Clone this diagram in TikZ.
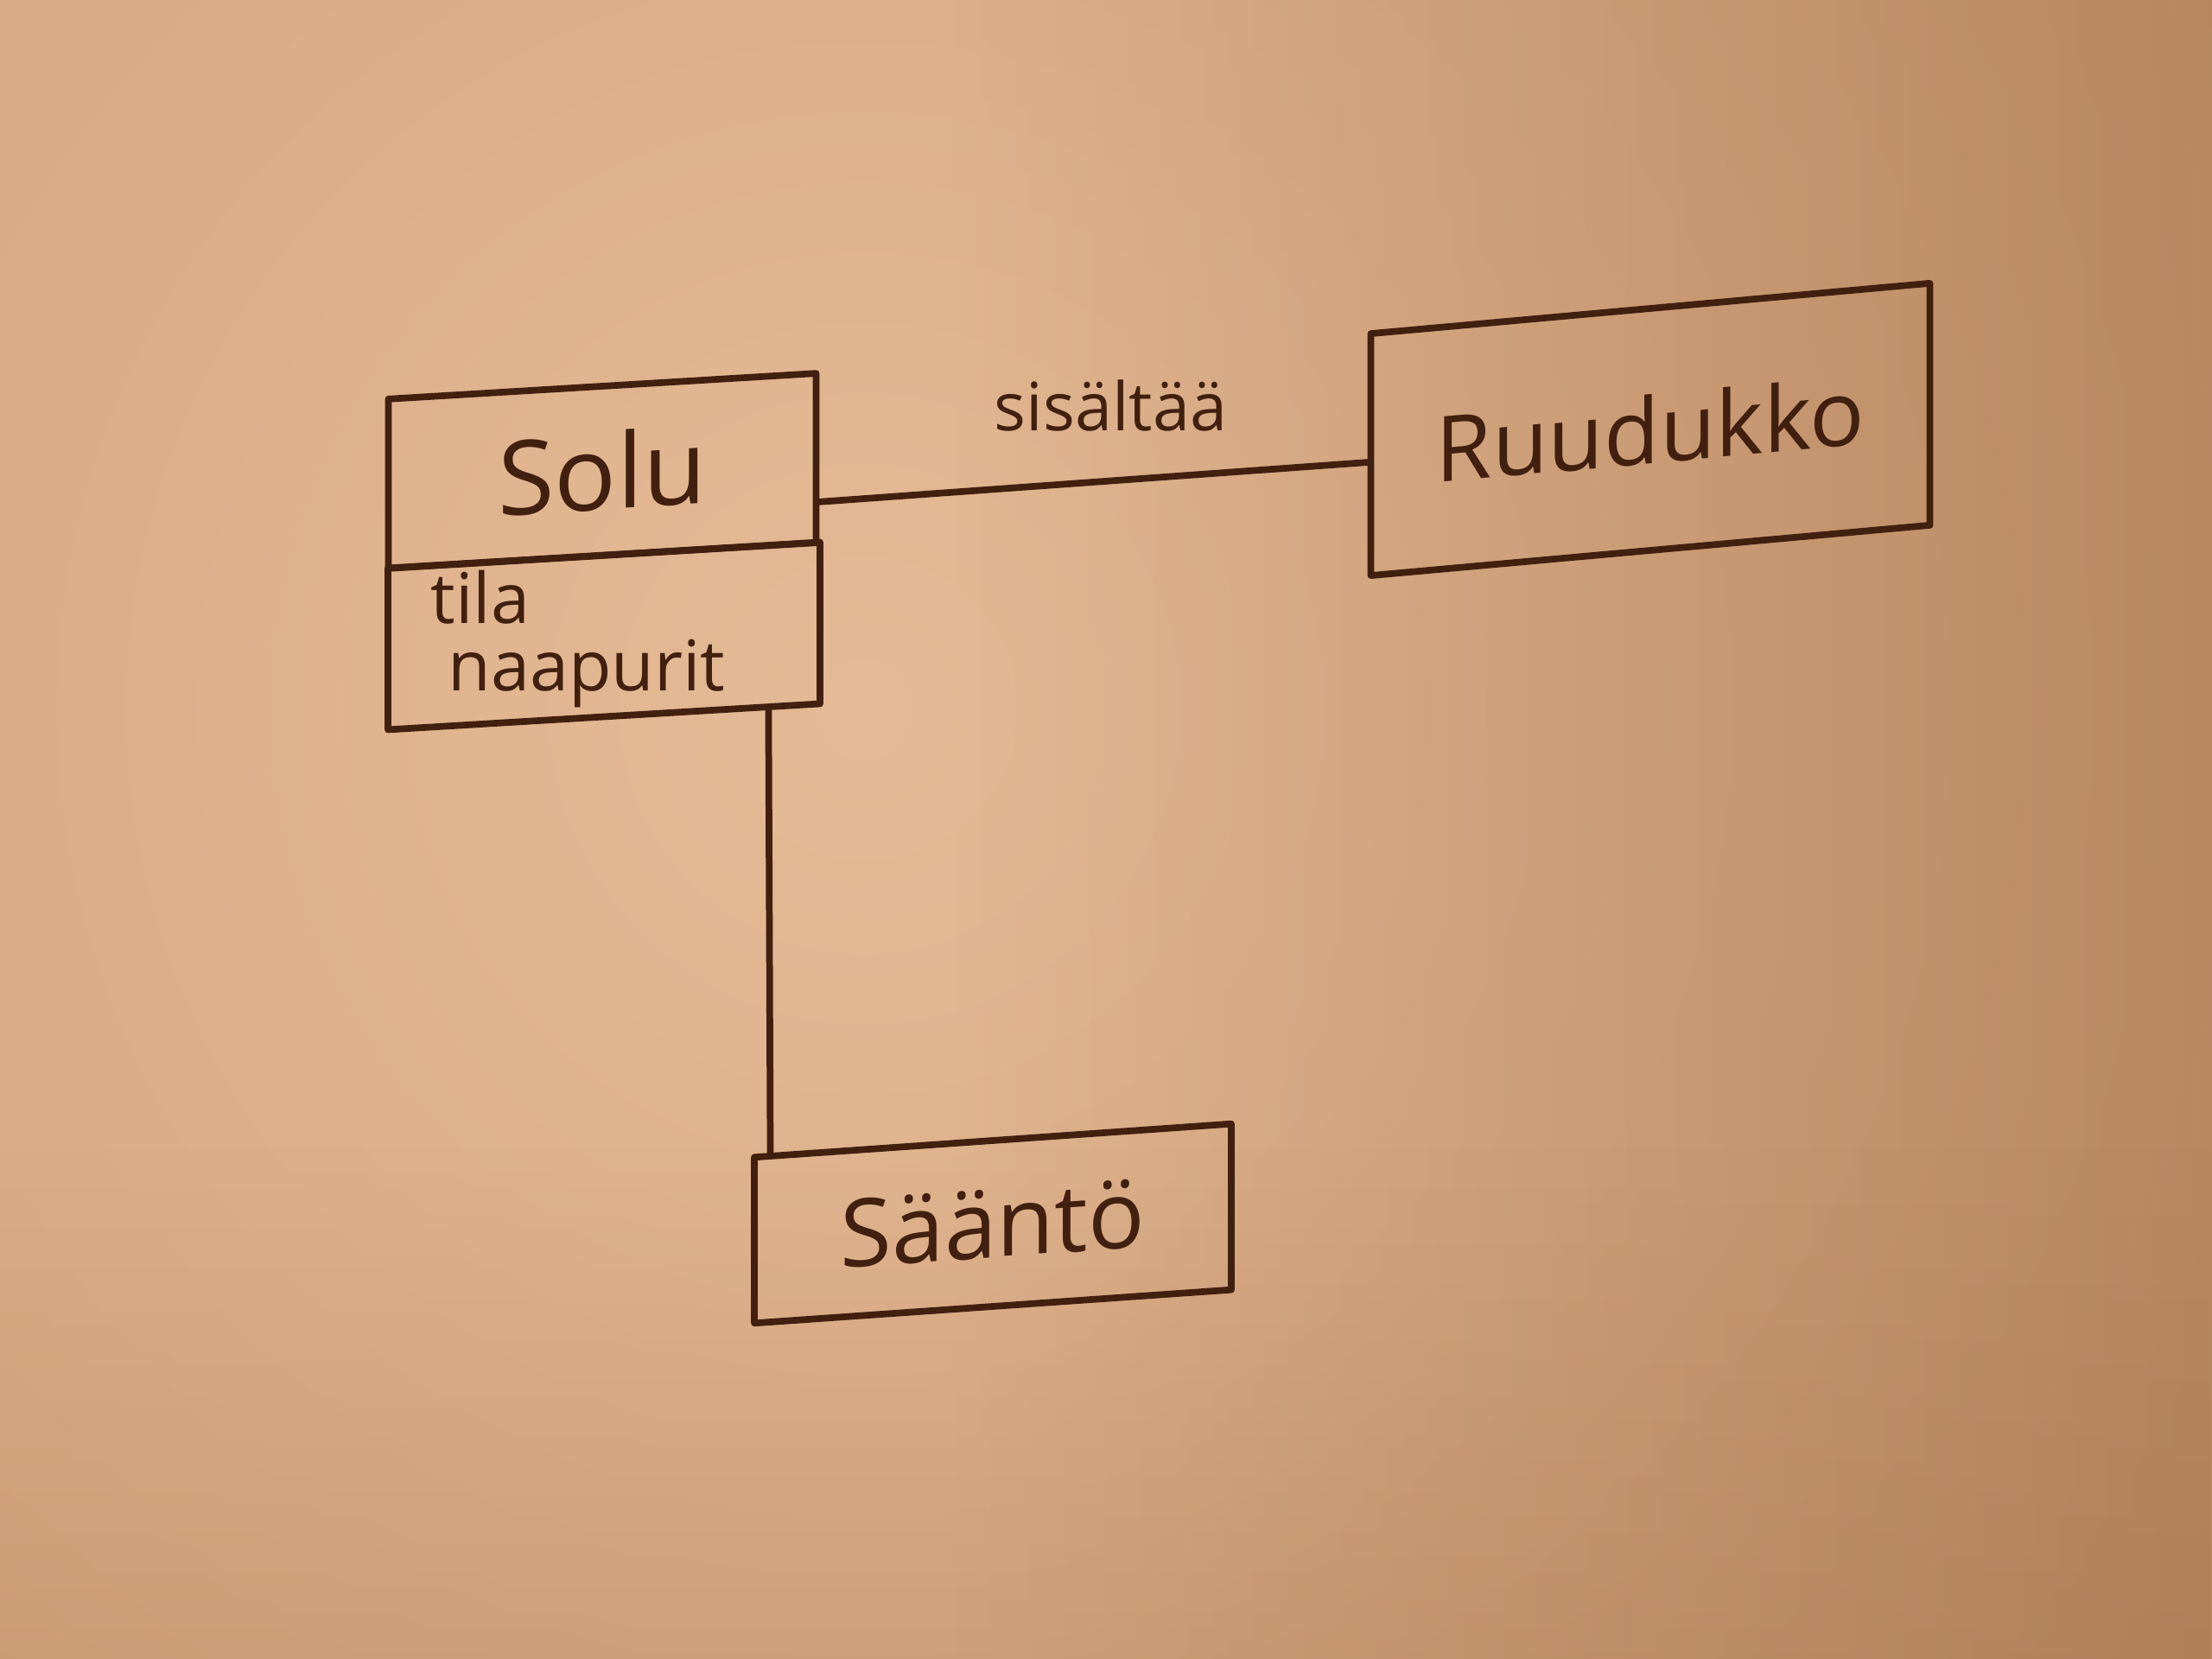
\documentclass[tikz,border=0pt]{standalone}
\usepackage{fontspec}
\setmainfont{Open Sans}
\usetikzlibrary{calc,fadings}
\definecolor{ink}{RGB}{66,32,16}
\definecolor{paperhi}{RGB}{228,186,150}
\definecolor{papermid}{RGB}{206,154,112}
\definecolor{paperlo}{RGB}{140,90,52}
\tikzset{
  pen/.style={draw=ink, line width=2.2pt, line join=round, line cap=round},
  classbox/.style={pen, rectangle, text=ink, inner sep=0pt},
  attr/.style={text=ink, font=\fontsize{23}{25}\selectfont, inner sep=0pt, anchor=base west},
}

\begin{document}
\begin{tikzpicture}
  \useasboundingbox (0,0) rectangle (25.6,19.2);
  \fill[papermid] (0,0) rectangle (25.6,19.2);
  \begin{scope}
    \clip (0,0) rectangle (25.6,19.2);
    \shade[inner color=paperhi, outer color=papermid] (10,11) circle (26);
    \fill[paperlo, path fading=west, opacity=0.4] (11,0) rectangle (25.6,19.2);
    \fill[paperlo, path fading=north, opacity=0.15] (0,0) rectangle (25.6,6);
  \end{scope}

  \node[classbox, minimum width=4.95cm, minimum height=1.96cm, yslant=0.06,
    font=\fontsize{34}{36}\selectfont] (soluname) at (6.97,13.75) {Solu};
  \node[classbox, minimum width=5.0cm, minimum height=1.87cm, yslant=0.06] (soluattr) at (6.99,11.84) {};
  \node[attr] (tila) at (4.98,11.98) {tila};
  \node[attr] (naapurit) at (5.18,11.2) {naapurit};
  \node[classbox, minimum width=6.47cm, minimum height=2.8cm, yslant=0.09,
    font=\fontsize{30}{32}\selectfont] (ruudukko) at (19.1,14.23) {Ruudukko};
  \node[classbox, minimum width=5.52cm, minimum height=1.92cm, yslant=0.07,
    font=\fontsize{31}{33}\selectfont] (saanto) at (11.49,5.04) {Sääntö};

  \draw[pen] ($(soluname.south east)!0.25!(soluname.north east)$)
    -- ($(ruudukko.south west)!0.47!(ruudukko.north west)$)
    node[midway, above=0.55cm, xshift=0.2cm, inner sep=0pt, text=ink,
      font=\fontsize{22}{24}\selectfont] (sisaltaa) {sisältää};
  \draw[pen] ($(soluattr.south west)!0.875!(soluattr.south east)$)
    -- ($(saanto.north west)!0.04!(saanto.north east)$);
\end{tikzpicture}
\end{document}
